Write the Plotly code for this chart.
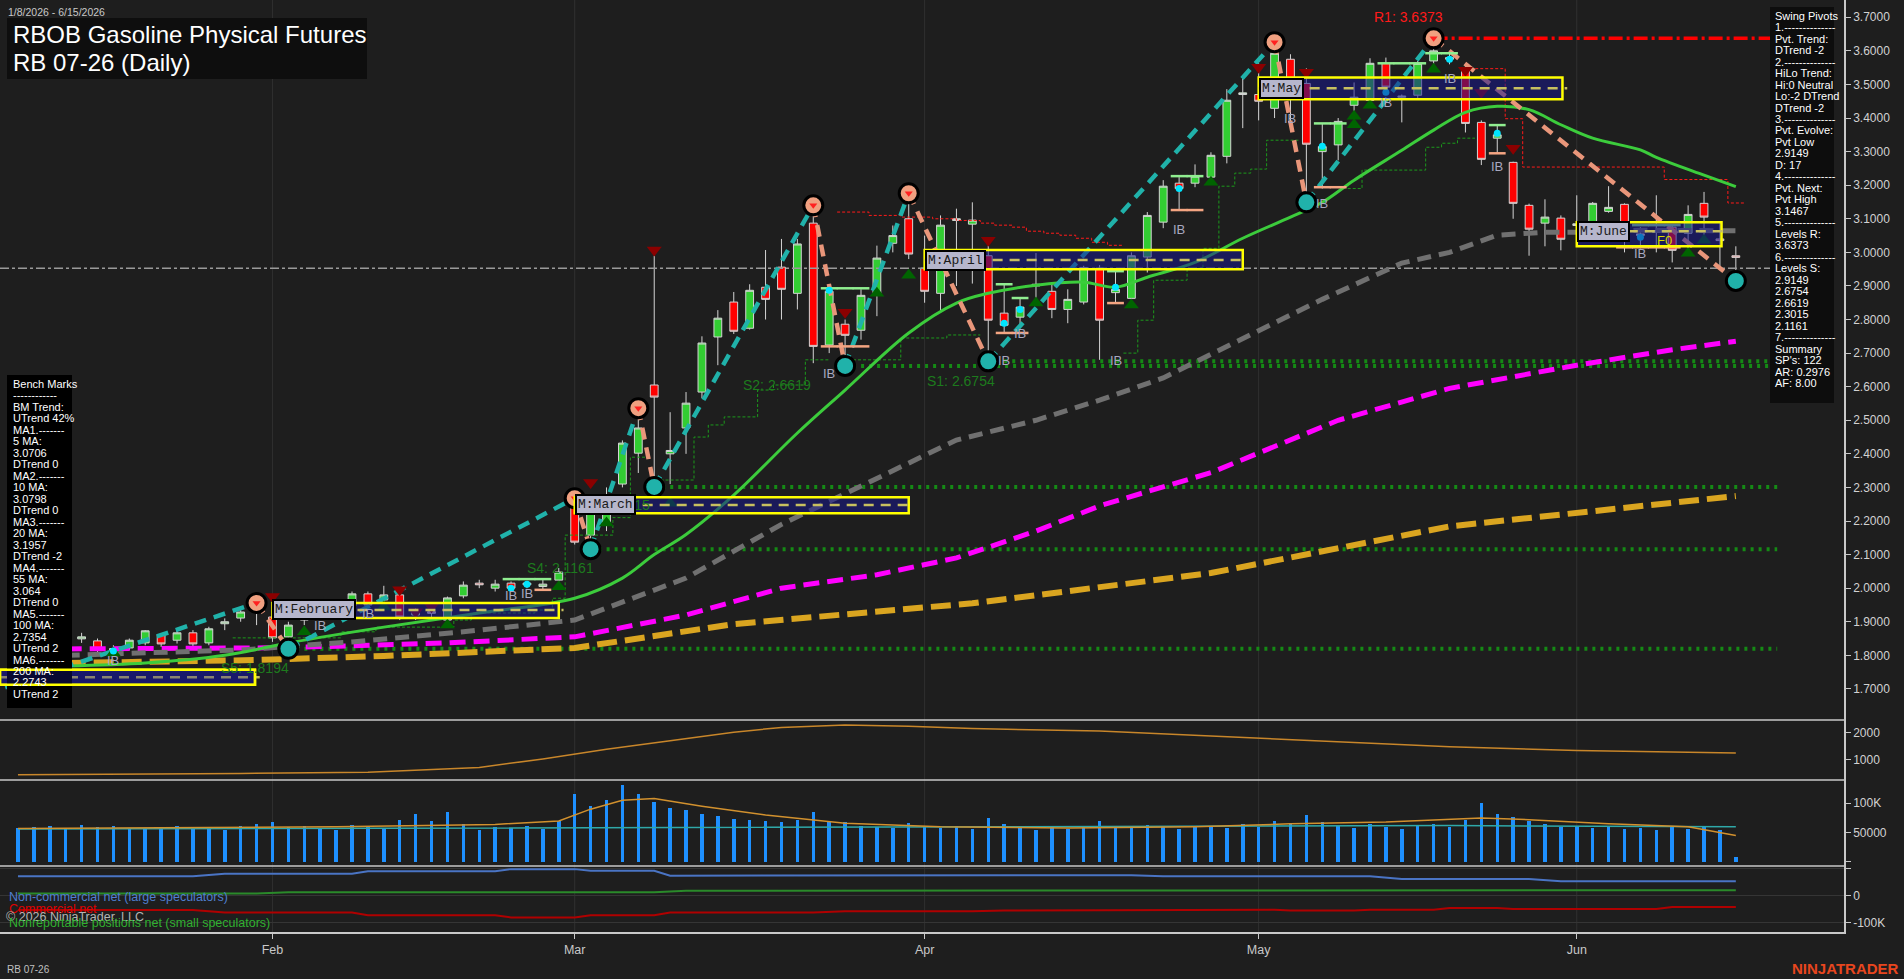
import plotly.graph_objects as go

# ---------------- data ----------------
month_ticks = [16, 35, 57, 78, 98]
month_labels = ["Feb", "Mar", "Apr", "May", "Jun"]

opens = [1.800, 1.810, 1.820, 1.810, 1.849, 1.843, 1.815, 1.822, 1.837, 1.861, 1.845, 1.867, 1.837, 1.894, 1.911, 1.930,
         1.914, 1.855, 1.905, 1.940, 1.930, 1.947, 1.983, 1.965, 1.980, 1.920, 1.930, 1.905, 1.977, 2.015, 2.000, 2.015, 2.010, 2.005, 2.024,
         2.256, 2.158, 2.190, 2.310, 2.402, 2.605, 2.400, 2.477, 2.584, 2.748, 2.852, 2.774, 2.896, 2.956, 2.878, 3.087, 2.724, 2.786, 2.768, 2.878, 3.027, 3.100,
         2.953, 2.878, 3.095, 3.084, 2.990, 2.819, 2.807, 2.900, 2.884, 2.830, 2.852, 2.953, 2.880, 2.863, 2.986, 3.090, 3.206, 3.206, 3.224, 3.286, 3.470,
         3.470, 3.429, 3.575, 3.503, 3.300, 3.320, 3.438, 3.453, 3.563, 3.462, 3.468, 3.570, 3.575, 3.548, 3.387, 3.340, 3.268, 3.140, 3.087, 3.102,
         3.080, 3.090, 3.122, 3.143, 3.050, 3.060, 3.075, 3.057, 3.146, 3.040, 2.990]
highs = [1.820, 1.830, 1.840, 1.850, 1.867, 1.850, 1.830, 1.850, 1.875, 1.865, 1.875, 1.875, 1.885, 1.910, 1.940, 1.956,
         1.950, 1.900, 1.950, 1.955, 1.960, 1.990, 1.990, 2.007, 1.990, 1.940, 1.945, 1.975, 2.020, 2.025, 2.025, 2.020, 2.020, 2.030, 2.060,
         2.268, 2.240, 2.300, 2.440, 2.536, 2.990, 2.524, 2.584, 2.750, 2.828, 2.882, 2.905, 3.007, 3.040, 3.040, 3.140, 2.900, 2.800, 2.890, 3.020, 3.080, 3.176,
         3.050, 3.110, 3.130, 3.149, 3.020, 2.908, 2.864, 2.998, 2.908, 2.890, 2.960, 2.962, 2.947, 3.000, 3.120, 3.215, 3.224, 3.262, 3.298, 3.486, 3.521,
         3.563, 3.626, 3.590, 3.548, 3.384, 3.400, 3.506, 3.578, 3.580, 3.470, 3.570, 3.6373, 3.600, 3.555, 3.393, 3.379, 3.270, 3.145, 3.158, 3.110,
         3.170, 3.150, 3.197, 3.146, 3.075, 3.170, 3.080, 3.140, 3.180, 3.087, 3.018]
lows = [1.790, 1.800, 1.800, 1.800, 1.837, 1.810, 1.800, 1.815, 1.830, 1.825, 1.835, 1.825, 1.830, 1.875, 1.900, 1.890,
        1.840, 1.8194, 1.890, 1.910, 1.920, 1.940, 1.940, 1.950, 1.905, 1.905, 1.910, 1.900, 1.970, 2.000, 1.990, 1.990, 2.000, 1.995, 2.020,
        2.130, 2.1161, 2.170, 2.300, 2.343, 2.3015, 2.310, 2.400, 2.566, 2.664, 2.757, 2.770, 2.800, 2.800, 2.830, 2.670, 2.700, 2.6619, 2.740, 2.810, 3.000, 2.980,
        2.850, 2.828, 2.900, 2.907, 2.6754, 2.760, 2.774, 2.864, 2.804, 2.789, 2.845, 2.680, 2.849, 2.860, 2.940, 3.072, 3.125, 3.194, 3.220, 3.265, 3.370,
        3.393, 3.400, 3.384, 3.149, 3.190, 3.274, 3.414, 3.430, 3.480, 3.387, 3.460, 3.550, 3.560, 3.357, 3.260, 3.295, 3.100, 2.990, 3.018, 3.006,
        3.057, 3.080, 3.118, 3.000, 3.012, 3.000, 2.970, 3.000, 3.045, 2.953, 2.9149]
closes = [1.810, 1.820, 1.810, 1.845, 1.855, 1.815, 1.820, 1.845, 1.873, 1.834, 1.867, 1.834, 1.879, 1.900, 1.929, 1.945,
          1.852, 1.890, 1.941, 1.925, 1.950, 1.983, 1.950, 1.980, 1.914, 1.930, 1.925, 1.971, 2.009, 2.010, 2.012, 2.000, 2.015, 2.012, 2.048,
          2.137, 2.233, 2.230, 2.432, 2.477, 2.569, 2.410, 2.551, 2.730, 2.804, 2.765, 2.887, 2.860, 2.890, 3.025, 2.720, 2.884, 2.753, 2.872, 2.983, 3.050, 2.995,
          2.884, 3.081, 3.100, 3.096, 2.798, 2.783, 2.837, 2.905, 2.830, 2.860, 2.955, 2.798, 2.890, 2.990, 3.110, 3.197, 3.190, 3.227, 3.289, 3.453, 3.475,
          3.450, 3.593, 3.492, 3.322, 3.315, 3.390, 3.462, 3.563, 3.492, 3.465, 3.563, 3.600, 3.580, 3.384, 3.277, 3.350, 3.146, 3.069, 3.105, 3.039,
          3.085, 3.146, 3.134, 3.057, 3.055, 3.065, 3.006, 3.113, 3.105, 3.035, 2.985]

volume_k = [58, 60, 62, 57, 63, 59, 61, 58, 56, 60, 62, 57, 59, 55, 61, 64,
            68, 60, 62, 58, 55, 63, 60, 58, 72, 82, 70, 85, 65, 55, 60, 58, 62, 57, 70,
            115, 95, 105, 131, 115, 103, 92, 88, 82, 78, 74, 72, 70, 68, 72, 85, 70, 68, 62, 60, 58, 66,
            60, 58, 62, 56, 75, 64, 58, 55, 60, 57, 62, 70, 58, 61, 63, 59, 57, 60, 62, 58, 64,
            60, 70, 66, 80, 68, 62, 58, 64, 60, 57, 62, 65, 60, 72, 100, 82, 76, 70, 64, 60,
            62, 58, 60, 56, 58, 55, 60, 57, 62, 55, 8]

# moving averages (read at sample bars)
ma20_idx = [3, 8, 13, 17, 23, 29, 35, 38, 40, 42, 45, 49, 52, 56, 59, 61, 64, 67, 69, 71, 74, 77, 80, 82, 84, 87, 89, 91, 93, 95, 97, 99, 102, 103, 106, 108]
ma20_val = [1.768, 1.777, 1.800, 1.837, 1.884, 1.926, 1.970, 2.030, 2.100, 2.160, 2.277, 2.462, 2.590, 2.760, 2.849, 2.878, 2.902, 2.911,
            2.896, 2.926, 2.970, 3.042, 3.105, 3.149, 3.215, 3.304, 3.364, 3.417, 3.435, 3.425, 3.380, 3.340, 3.305, 3.283, 3.230, 3.1957]
ma55_idx = [3, 14, 21, 28, 35, 42, 48, 55, 59, 64, 68, 72, 78, 82, 87, 90, 93, 96, 99, 102, 105, 108]
ma55_val = [1.800, 1.816, 1.840, 1.870, 1.905, 2.030, 2.190, 2.350, 2.441, 2.500, 2.560, 2.626, 2.768, 2.860, 2.968, 3.000, 3.051, 3.060,
            3.060, 3.066, 3.065, 3.064]
ma100_idx = [3, 15, 21, 27, 35, 42, 48, 54, 59, 64, 68, 75, 83, 90, 98, 104, 108]
ma100_val = [1.819, 1.822, 1.828, 1.837, 1.855, 1.920, 2.000, 2.040, 2.090, 2.170, 2.245, 2.344, 2.500, 2.595, 2.664, 2.710, 2.7354]
ma200_idx = [3, 15, 23, 35, 45, 60, 75, 90, 108]
ma200_val = [1.777, 1.786, 1.798, 1.822, 1.893, 1.955, 2.045, 2.184, 2.2743]

# swing pivots / zigzag
zz_idx = [-2, 15, 17, 35, 36, 39, 40, 50, 52, 56, 61, 79, 81, 89, 108]
zz_val = [1.686, 1.956, 1.8194, 2.268, 2.1161, 2.536, 2.3015, 3.14, 2.6619, 3.176, 2.6754, 3.626, 3.149, 3.6373, 2.9149]
ph_idx = [15, 35, 39, 50, 56, 79, 89]
ph_val = [1.956, 2.268, 2.536, 3.14, 3.176, 3.626, 3.6373]
pl_idx = [17, 36, 40, 52, 61, 81, 108]
pl_val = [1.8194, 2.1161, 2.3015, 2.6619, 2.6754, 3.149, 2.9149]

# support / resistance levels
sup_start = [17, 36, 40, 52, 61]
sup_val = [1.8194, 2.1161, 2.3015, 2.6619, 2.6754]
sup_lbl = ["S5: 1.8194", "S4: 2.1161", "S3: 2.3015", "S2: 2.6619", "S1: 2.6754"]
sup_lbl_idx = [14.9, 34.1, 37.6, 47.7, 59.3]
sup_lbl_val = [1.762, 2.060, 2.248, 2.605, 2.616]
res_start, res_val = 89, 3.6373
res_lbl_idx, res_lbl_val = 87.4, 3.700
level_end = 110.6
mid_line_val = 2.953

# trailing step lines
grn_trail_x = [13.5, 20.3, 22.5, 27.4, 28.5, 32.5, 33.6, 34.4, 37.4, 38.5, 39.6, None,
               40.4, 42.5, 43.4, 44.4, 46.5, 47.5, 49.5, 51.0, None,
               52.5, 55.5, 58.4, 60.5, None,
               69.5, 70.4, 71.4, 73.5, 74.5, 75.5, 76.5, 77.5, 78.5, 80.5, None,
               83.6, 84.5, 88.5, 89.5, 90.5, 91.6]
grn_trail_y = [1.852, 1.870, 1.884, 1.905, 1.926, 1.935, 1.970, 2.158, 2.210, 2.390, 2.390, None,
               2.322, 2.450, 2.486, 2.510, 2.590, 2.605, 2.680, 2.680, None,
               2.680, 2.745, 2.754, 2.754, None,
               2.700, 2.798, 2.917, 2.953, 3.012, 3.197, 3.236, 3.248, 3.334, 3.334, None,
               3.190, 3.245, 3.313, 3.325, 3.340, 3.340]
red_trail_x = [51.5, 53.5, 55.5, 57.5, 59.0, 60.5, 61.4, 62.5, 63.4, 64.5, 65.5, 66.5, 67.5, 68.5, 69.5, None,
               91.3, 93.5, 94.6, 103.5, 107.5, 108.6]
red_trail_y = [3.120, 3.110, 3.105, 3.100, 3.095, 3.087, 3.081, 3.075, 3.063, 3.057, 3.051, 3.042, 3.030, 3.021, 3.021, None,
               3.547, 3.398, 3.254, 3.217, 3.147, 3.147]

# markers
dn_tri_idx = [16, 24, 25, 26, 36, 40, 52, 61, 78, 81, 91, 92, 94]
dn_tri_val = [1.975, 1.995, 1.930, 1.945, 2.315, 3.007, 2.822, 3.036, 3.551, 3.536, 3.542, 3.477, 3.310]
up_tri_idx = [6, 18, 23, 27, 34, 37, 41, 54, 56, 64, 70, 75, 84, 84, 85, 89, 105, 106]
up_tri_val = [1.807, 1.870, 1.944, 1.890, 2.004, 2.194, 2.253, 2.878, 2.932, 2.849, 2.843, 3.209, 3.380, 3.405, 3.438, 3.545, 2.997, 3.036]
dot_idx = [6, 19, 31, 32, 51, 62, 63, 69, 73, 82, 86, 90, 93, 102]
dot_val = [1.813, 1.926, 2.000, 2.012, 2.887, 2.789, 2.830, 2.896, 3.190, 3.316, 3.477, 3.575, 3.355, 3.045]
ibhi_idx = [31, 32, 33, 51, 52, 53, 62, 63, 69, 73, 74, 82, 83, 86, 87, 88, 89, 90, 93, 102, 103, 104]
ibhi_val = [2.027, 2.027, 2.027, 2.893, 2.893, 2.893, 2.905, 2.864, 2.944, 3.227, 3.227, 3.384, 3.384, 3.563, 3.563, 3.563,
            3.593, 3.593, 3.379, 3.081, 3.081, 3.081]
iblo_idx = [33, 51, 52, 53, 62, 63, 69, 73, 74, 82, 83, 93, 101, 102, 103, 104]
iblo_val = [1.995, 2.72, 2.72, 2.72, 2.76, 2.76, 2.849, 3.126, 3.126, 3.194, 3.194, 3.295, 3.015, 3.015, 3.015, 3.015]
ib_idx = [6, 19, 22, 31, 32, 51, 62, 63, 69, 73, 80, 82, 86, 90, 93, 102]
ib_val = [1.785, 1.890, 1.925, 1.979, 1.985, 2.640, 2.679, 2.759, 2.679, 3.069, 3.400, 3.146, 3.447, 3.518, 3.256, 2.997]

# monthly boxes
box_lbl = ["", "M:February", "M:March", "M:April", "M:May", "M:June"]
box_x0 = [-1.13, 16, 35, 57, 78, 98]
box_x1 = [14.9, 34, 56, 77, 97.1, 107.1]
box_lo = [1.712, 1.911, 2.223, 2.950, 3.456, 3.018]
box_hi = [1.757, 1.956, 2.271, 3.007, 3.521, 3.090]
box_mid = [1.735, 1.935, 2.248, 2.977, 3.489, 3.063]

# lower panels
p2_idx = [0, 6, 14, 22, 29, 33, 37, 41, 45, 48, 52, 56, 60, 68, 75, 83, 90, 98, 108]
p2_val = [456, 470, 500, 545, 725, 1037, 1400, 1715, 2030, 2207, 2300, 2252, 2163, 2074, 1893, 1670, 1489, 1355, 1263]
volavg_idx = [0, 10, 20, 30, 34, 36, 38, 40, 43, 47, 52, 58, 66, 74, 80, 86, 92, 95, 100, 105, 108]
volavg_k = [57, 58, 60, 64, 70, 90, 105, 108, 95, 80, 66, 60, 58, 60, 65, 68, 75, 72, 65, 60, 45]
oi_idx = [0, 30, 60, 90, 108]
oi_k = [56, 58, 60, 62, 60]
cot_blue_idx = [0, 11, 13, 21, 22, 30, 31, 35, 36, 40, 41, 55, 57, 70, 72, 85, 87, 95, 97, 108]
cot_blue_k = [70, 70, 79, 79, 88, 88, 96, 96, 90, 90, 72, 72, 74, 74, 70, 70, 60, 60, 52, 52]
cot_red_idx = [0, 11, 13, 21, 22, 30, 31, 35, 36, 40, 41, 50, 52, 60, 62, 74, 79, 80, 84, 85, 89, 90, 93, 94, 103, 104, 108]
cot_red_k = [-53, -53, -62, -62, -72, -72, -80, -80, -72, -72, -62, -62, -58, -58, -55, -52, -52, -55, -55, -52, -52,
             -46, -46, -49, -49, -42, -42]
cot_grn_idx = [0, 15, 17, 40, 42, 108]
cot_grn_k = [7, 7, 12, 12, 17, 19]

swing_lines = ["Swing Pivots", "1.--------------", "Pvt. Trend:", "DTrend -2", "2.--------------", "HiLo Trend:",
               "Hi:0 Neutral", "Lo:-2 DTrend", "DTrend -2", "3.--------------", "Pvt. Evolve:", "Pvt Low", "2.9149",
               "D: 17", "4.--------------", "Pvt. Next:", "Pvt High", "3.1467", "5.--------------", "Levels R:", "3.6373",
               "6.--------------", "Levels S:", "2.9149", "2.6754", "2.6619", "2.3015", "2.1161", "7.--------------",
               "Summary", "SP's: 122", "AR: 0.2976", "AF: 8.00"]
bench_lines = ["Bench Marks", "------------", "BM Trend:", "UTrend 42%", "MA1.-------", "5 MA:", "3.0706", "DTrend 0",
               "MA2.-------", "10 MA:", "3.0798", "DTrend 0", "MA3.-------", "20 MA:", "3.1957", "DTrend -2",
               "MA4.-------", "55 MA:", "3.064", "DTrend 0", "MA5.-------", "100 MA:", "2.7354", "UTrend 2",
               "MA6.-------", "200 MA:", "2.2743", "UTrend 2"]

# ---------------- layout helpers ----------------
W, H = 1904, 979
PW, PH = 1844, 932


def px(v):
    return v / PW


def py(v):
    return (PH - v) / PH


BG = "#1e1e1e"
AX = "#c8c8c8"
SANS = "Liberation Sans, Arial, sans-serif"
NARROW = "Liberation Sans Narrow, Arial Narrow, Liberation Sans, Arial, sans-serif"
MONO = "Liberation Mono, DejaVu Sans Mono, monospace"
K = 1000

fig = go.Figure()
xs = list(range(len(opens)))

# candles
fig.add_trace(go.Candlestick(
    x=xs, open=opens, high=highs, low=lows, close=closes, whiskerwidth=0,
    increasing=dict(fillcolor="#32cd32", line=dict(color="#d4d4d4", width=1)),
    decreasing=dict(fillcolor="#ff0000", line=dict(color="#d4d4d4", width=1)),
    xaxis="x", yaxis="y", hoverinfo="skip"))

# horizontal levels
fig.add_trace(go.Scatter(x=[-1.13, level_end], y=[mid_line_val, mid_line_val], mode="lines",
                         line=dict(color="#9a9a9a", width=1.5, dash="dashdot"), yaxis="y"))
for s0, v in zip(sup_start, sup_val):
    fig.add_trace(go.Scatter(x=[s0, level_end], y=[v, v], mode="lines",
                             line=dict(color="#158a15", width=4, dash="3px,5px"), yaxis="y"))
fig.add_trace(go.Scatter(x=[res_start, level_end], y=[res_val, res_val], mode="lines",
                         line=dict(color="#ff0000", width=3.5, dash="14px,4px,3px,4px"), yaxis="y"))

# trailing step lines
fig.add_trace(go.Scatter(x=grn_trail_x, y=grn_trail_y, mode="lines", line_shape="hv", connectgaps=False,
                         line=dict(color="#1c9a1c", width=1, dash="3px,2px"), yaxis="y"))
fig.add_trace(go.Scatter(x=red_trail_x, y=red_trail_y, mode="lines", line_shape="hv", connectgaps=False,
                         line=dict(color="#ff1a1a", width=1, dash="3px,2px"), yaxis="y"))

# moving averages
fig.add_trace(go.Scatter(x=ma200_idx, y=ma200_val, mode="lines",
                         line=dict(color="#daa520", width=6, dash="20px,8px"), yaxis="y"))
fig.add_trace(go.Scatter(x=ma100_idx, y=ma100_val, mode="lines",
                         line=dict(color="#ff00ff", width=5, dash="16px,8px"), yaxis="y"))
fig.add_trace(go.Scatter(x=ma55_idx, y=ma55_val, mode="lines",
                         line=dict(color="#707070", width=5, dash="14px,8px"), yaxis="y"))
fig.add_trace(go.Scatter(x=ma20_idx, y=ma20_val, mode="lines", line_shape="spline",
                         line=dict(color="#3ccc3c", width=3), yaxis="y"))

# zigzag legs
for k in range(len(zz_idx) - 1):
    up = zz_val[k + 1] > zz_val[k]
    fig.add_trace(go.Scatter(x=[zz_idx[k], zz_idx[k + 1]], y=[zz_val[k], zz_val[k + 1]], mode="lines",
                             line=dict(color="#20b2aa" if up else "#e9967a", width=4.5, dash="12px,8px"),
                             yaxis="y"))

# markers
fig.add_trace(go.Scatter(x=dn_tri_idx, y=dn_tri_val, mode="markers",
                         marker=dict(symbol="triangle-down", size=13, color="#8b0000"), yaxis="y"))
fig.add_trace(go.Scatter(x=up_tri_idx, y=up_tri_val, mode="markers",
                         marker=dict(symbol="triangle-up", size=13, color="#006400"), yaxis="y"))
fig.add_trace(go.Scatter(x=ibhi_idx, y=ibhi_val, mode="markers",
                         marker=dict(symbol="line-ew", size=12, line=dict(color="#90ee90", width=2.5)), yaxis="y"))
fig.add_trace(go.Scatter(x=iblo_idx, y=iblo_val, mode="markers",
                         marker=dict(symbol="line-ew", size=12, line=dict(color="#f4a582", width=2.5)), yaxis="y"))
fig.add_trace(go.Scatter(x=dot_idx, y=dot_val, mode="markers",
                         marker=dict(symbol="circle", size=7, color="#00e5ff"), yaxis="y"))
fig.add_trace(go.Scatter(x=ph_idx, y=ph_val, mode="markers",
                         marker=dict(symbol="circle", size=19, color="#f0a080", line=dict(color="#000000", width=3)),
                         yaxis="y"))
fig.add_trace(go.Scatter(x=ph_idx, y=ph_val, mode="markers",
                         marker=dict(symbol="triangle-down", size=7, color="#ff2020"), yaxis="y"))
fig.add_trace(go.Scatter(x=pl_idx, y=pl_val, mode="markers",
                         marker=dict(symbol="circle", size=19, color="#20b2aa", line=dict(color="#000000", width=3)),
                         yaxis="y"))

# panel 2
fig.add_trace(go.Scatter(x=p2_idx, y=p2_val, mode="lines", line=dict(color="#c8862a", width=1.5), yaxis="y2"))
# panel 3 volume
fig.add_trace(go.Bar(x=xs, y=[v * K for v in volume_k], width=0.22, marker=dict(color="#1e90ff", line=dict(width=0)),
                     yaxis="y3"))
fig.add_trace(go.Scatter(x=oi_idx, y=[v * K for v in oi_k], mode="lines", line=dict(color="#2fa8a8", width=1.5),
                         yaxis="y3"))
fig.add_trace(go.Scatter(x=volavg_idx, y=[v * K for v in volavg_k], mode="lines",
                         line=dict(color="#d2912e", width=1.5), yaxis="y3"))
# panel 4 COT
fig.add_trace(go.Scatter(x=cot_blue_idx, y=[v * K for v in cot_blue_k], mode="lines",
                         line=dict(color="#4a74c4", width=2), yaxis="y4"))
fig.add_trace(go.Scatter(x=cot_grn_idx, y=[v * K for v in cot_grn_k], mode="lines",
                         line=dict(color="#2a8a2a", width=2), yaxis="y4"))
fig.add_trace(go.Scatter(x=cot_red_idx, y=[v * K for v in cot_red_k], mode="lines",
                         line=dict(color="#b00000", width=2), yaxis="y4"))

# ---------------- shapes ----------------
shapes = []
for t in month_ticks:
    shapes.append(dict(type="line", xref="x", yref="paper", x0=t, x1=t, y0=0, y1=1, layer="below",
                       line=dict(color="#303030", width=1)))
for k in range(len(box_lbl)):
    shapes.append(dict(type="rect", xref="x", yref="y", x0=box_x0[k], x1=box_x1[k], y0=box_lo[k], y1=box_hi[k],
                       layer="above", fillcolor="rgba(24,24,140,0.55)", line=dict(color="#ffff00", width=2.5)))
    shapes.append(dict(type="line", xref="x", yref="y", x0=box_x0[k], x1=box_x1[k] + 0.3, y0=box_mid[k], y1=box_mid[k],
                       layer="above", line=dict(color="#c8c060", width=2.5, dash="10px,7px")))
# separators
for yy in (720, 780, 866):
    shapes.append(dict(type="line", xref="paper", yref="paper", x0=0, x1=1, y0=py(yy), y1=py(yy),
                       line=dict(color=AX, width=1.5)))
# info boxes
shapes.append(dict(type="rect", xref="paper", yref="paper", x0=px(7), x1=px(367), y0=py(79), y1=py(18),
                   fillcolor="#0e0e0e", line=dict(width=0), layer="above"))
shapes.append(dict(type="rect", xref="paper", yref="paper", x0=px(1770), x1=px(1834), y0=py(403), y1=py(7),
                   fillcolor="#0d0d0d", line=dict(width=0), layer="above"))
shapes.append(dict(type="rect", xref="paper", yref="paper", x0=px(7), x1=px(72), y0=py(708), y1=py(375),
                   fillcolor="#000000", line=dict(width=0), layer="above"))
# January box redrawn above bench box
shapes.append(dict(type="rect", xref="x", yref="y", x0=box_x0[0], x1=box_x1[0], y0=box_lo[0], y1=box_hi[0],
                   layer="above", fillcolor="rgba(24,24,140,0.35)", line=dict(color="#ffff00", width=2.5)))

# ---------------- annotations ----------------
ann = []


def txt(x, y, s, size, color, xref="paper", yref="paper", xanchor="left", family=SANS, **kw):
    d = dict(x=x, y=y, xref=xref, yref=yref, text=s, showarrow=False, xanchor=xanchor, yanchor="middle",
             font=dict(family=family, size=size, color=color))
    d.update(kw)
    ann.append(d)


for k, s in enumerate(swing_lines):
    txt(px(1773), py(15.7 + 11.48 * k), s, 11, "#ffffff")
for k, s in enumerate(bench_lines):
    txt(px(11), py(384 + 11.48 * k), s, 11, "#ffffff")

txt(px(6), py(11.5), "1/8/2026 - 6/15/2026", 10.5, "#c8c8c8")
txt(px(11), py(34.7), "RBOB Gasoline Physical Futures", 24, "#ffffff")
txt(px(11), py(62.3), "RB 07-26 (Daily)", 24, "#ffffff")

for i, v in zip(ib_idx, ib_val):
    txt(i, v, "IB", 13, "#a8a8c0", xref="x", yref="y", xanchor="center", family=NARROW)
txt(103.5, 3.036, "F0", 13, "#d8d800", xref="x", yref="y", xanchor="center", family=NARROW)

for s, i, v in zip(sup_lbl, sup_lbl_idx, sup_lbl_val):
    txt(i, v, s, 14, "#1d7a1d", xref="x", yref="y", xanchor="center", family=NARROW)
txt(res_lbl_idx, res_lbl_val, "R1: 3.6373", 14, "#ff1a1a", xref="x", yref="y", xanchor="center", family=NARROW)

for k in range(1, len(box_lbl)):
    txt(box_x0[k], box_mid[k], box_lbl[k], 13, "#1a1a1a", xref="x", yref="y", family=MONO,
        bgcolor="#b6b6cc", bordercolor="#000000", borderwidth=2, borderpad=1)

txt(px(7), py(897), "Non-commercial net (large speculators)", 12.5, "#4f7fd0", family=NARROW)
txt(px(7), py(909), "Commercial net", 12.5, "#e00000", family=NARROW)
txt(px(4), py(917), "\u00a9 2026 NinjaTrader, LLC", 12.5, "#b4b4b4", family=NARROW)
txt(px(7), py(923), "Nonreportable positions net (small speculators)", 12.5, "#30b030", family=NARROW)
txt(px(5), py(969), "RB 07-26", 10, "#c0c0c0")
txt(px(1901), py(968), "<b>NINJATRADER</b>", 15, "#e8461e", xanchor="right")

# ---------------- axes ----------------
price_ticks = [round(1.7 + 0.1 * k, 1) for k in range(21)]
yaxis_common = dict(side="right", anchor="x", showgrid=False, zeroline=False, showline=True, linecolor=AX,
                    linewidth=1.5, ticks="outside", ticklen=5, tickcolor=AX,
                    tickfont=dict(family=SANS, size=12, color="#d2d2d2"))

fig.update_layout(
    width=W, height=H, margin=dict(l=0, r=W - PW, t=0, b=H - PH),
    paper_bgcolor=BG, plot_bgcolor=BG, showlegend=False, bargap=0,
    xaxis=dict(domain=[0, 1], range=[-1.13, 114.8], anchor="y4", tickvals=month_ticks, ticktext=month_labels,
               showgrid=False, zeroline=False, showline=True, linecolor=AX, linewidth=1.5,
               ticks="outside", ticklen=5, tickcolor=AX, rangeslider=dict(visible=False),
               tickfont=dict(family=SANS, size=12.5, color="#c8c8c8")),
    yaxis=dict(domain=[py(720), 1], range=[1.6074, 3.7515], tickvals=price_ticks,
               ticktext=[f"{v:.4f}" for v in price_ticks], **yaxis_common),
    yaxis2=dict(domain=[py(780), py(720)], range=[259, 2481], tickvals=[1000, 2000], ticktext=["1000", "2000"],
                **yaxis_common),
    yaxis3=dict(domain=[py(866), py(780)], range=[-6900, 139700], tickvals=[0, 50000, 100000],
                ticktext=["", "50000", "100K"], **yaxis_common),
    yaxis4=dict(domain=[0, py(866)], range=[-133300, 107400], tickvals=[-100000, 0, 100000],
                ticktext=["-100K", "0", ""], **yaxis_common),
    shapes=shapes, annotations=ann,
)
fig.update_layout(yaxis4=dict(showgrid=True, gridcolor="#353535", gridwidth=1))

fig.write_html("out.html")
